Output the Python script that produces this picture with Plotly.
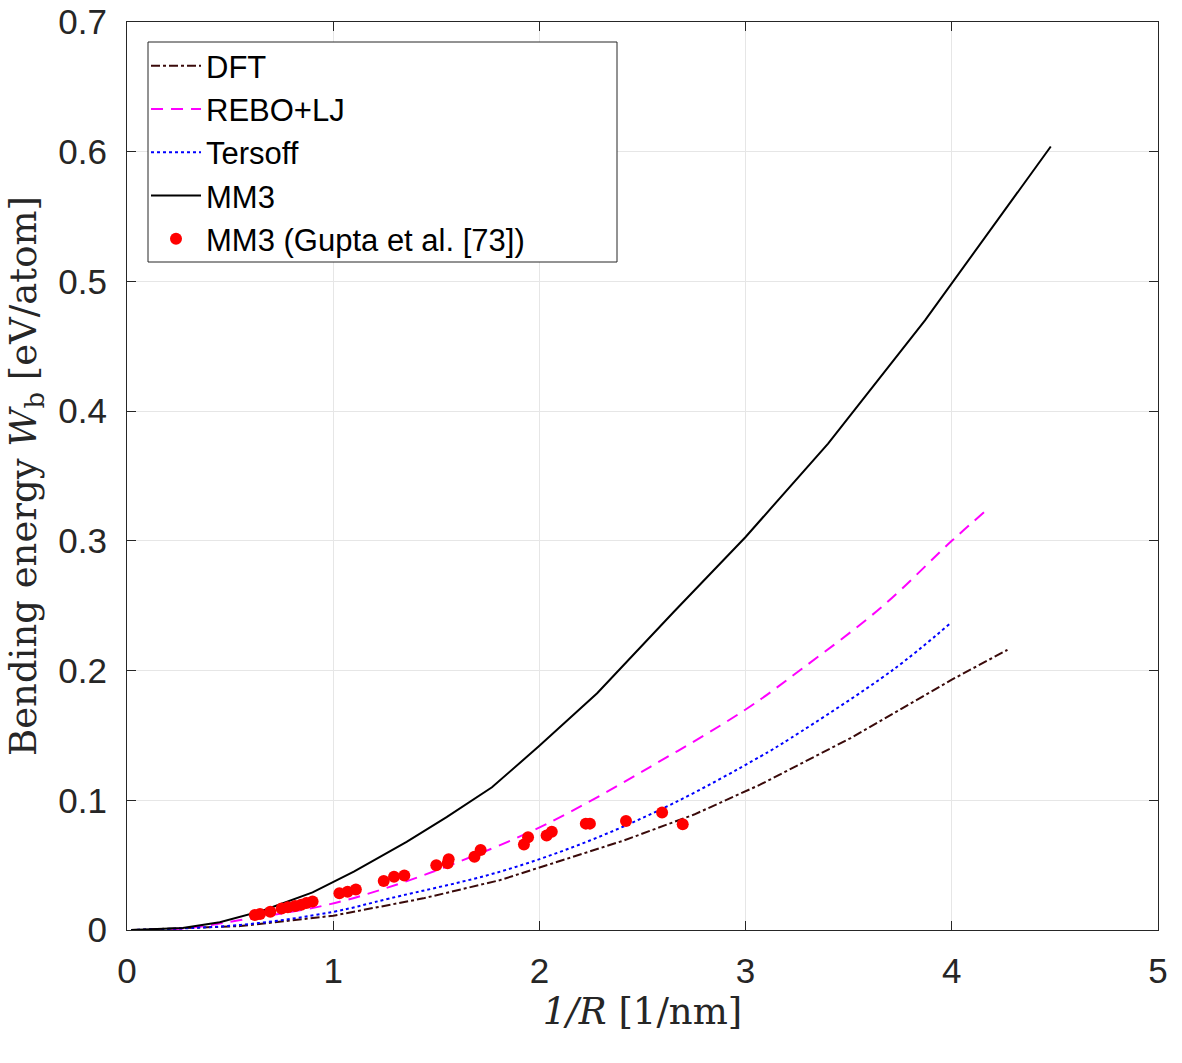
import plotly.graph_objects as go

# DFT
dft_x = [0.02, 0.55, 1.0, 1.437, 1.81, 2.067, 2.41, 2.75, 3.07, 3.51, 4.0, 4.27]
dft_y = [0.0, 0.003, 0.011, 0.0244, 0.0385, 0.0514, 0.069, 0.089, 0.112, 0.148, 0.193, 0.216]
# REBO+LJ
rebo_x = [0.02, 0.3, 0.55, 0.96, 1.25, 1.6, 2.035, 2.54, 3.0, 3.27, 3.66, 4.0, 4.156]
rebo_y = [0.0, 0.0015, 0.0077, 0.019, 0.032, 0.052, 0.0817, 0.126, 0.170, 0.201, 0.249, 0.300, 0.322]
# Tersoff
ters_x = [0.02, 0.55, 1.0, 1.275, 1.81, 2.245, 2.65, 3.07, 3.22, 3.71, 3.99]
ters_y = [0.0, 0.0039, 0.014, 0.0244, 0.045, 0.069, 0.0977, 0.1336, 0.148, 0.200, 0.236]
# MM3
mm3_x = [0.02, 0.27, 0.45, 0.65, 0.9, 1.1, 1.356, 1.55, 1.77, 2.0, 2.28, 2.65, 3.0, 3.4, 3.87, 4.48]
mm3_y = [0.0, 0.0015, 0.006, 0.0145, 0.029, 0.045, 0.068, 0.087, 0.110, 0.142, 0.1825, 0.245, 0.303, 0.375, 0.470, 0.604]
# MM3 (Gupta et al.)
gup_x = [0.62, 0.645, 0.695, 0.75, 0.78, 0.815, 0.845, 0.87, 0.9, 1.03, 1.07, 1.11, 1.245, 1.295, 1.345,
         1.50, 1.555, 1.56, 1.685, 1.715, 1.925, 1.945, 2.035, 2.06, 2.225, 2.245, 2.42, 2.595, 2.695]
gup_y = [0.0115, 0.0123, 0.014, 0.0165, 0.0175, 0.0185, 0.0195, 0.0208, 0.022, 0.0283, 0.0295, 0.0312, 0.0378,
         0.041, 0.042, 0.050, 0.0515, 0.0545, 0.0565, 0.0617, 0.066, 0.0715, 0.0728, 0.0758, 0.082, 0.082,
         0.084, 0.0905, 0.0815]

x_ticks = [0, 1, 2, 3, 4, 5]
y_ticks = [0, 0.1, 0.2, 0.3, 0.4, 0.5, 0.6, 0.7]
y_tick_text = ["0", "0.1", "0.2", "0.3", "0.4", "0.5", "0.6", "0.7"]

fig = go.Figure()
fig.add_trace(go.Scatter(x=dft_x, y=dft_y, mode="lines", name="DFT",
                         line=dict(color="#3a0a0a", width=2, dash="dashdot")))
fig.add_trace(go.Scatter(x=rebo_x, y=rebo_y, mode="lines", name="REBO+LJ", line_shape="spline",
                         line=dict(color="#ff00ff", width=2, dash="12px,8px")))
fig.add_trace(go.Scatter(x=ters_x, y=ters_y, mode="lines", name="Tersoff", line_shape="spline",
                         line=dict(color="#0000ff", width=2, dash="dot")))
fig.add_trace(go.Scatter(x=mm3_x, y=mm3_y, mode="lines", name="MM3",
                         line=dict(color="#000000", width=2)))
fig.add_trace(go.Scatter(x=gup_x, y=gup_y, mode="markers", name="MM3 (Gupta et al. [73])",
                         marker=dict(color="#ff0000", size=12, line=dict(width=0))))

axis_common = dict(showline=True, linecolor="#262626", linewidth=1, mirror="ticks",
                   ticks="inside", ticklen=9, tickcolor="#262626",
                   showgrid=True, gridcolor="#e6e6e6", gridwidth=1, zeroline=False,
                   ticklabeloverflow="allow", automargin=False,
                   tickfont=dict(family="Liberation Sans, Arial", size=35, color="#262626"))

title_font = dict(family="DejaVu Serif, Liberation Serif, serif", size=37, color="#262626")

# Legend frame (paper coords derived from the plot area)
L, R, T, B = 127, 1158, 22, 930
fig.add_shape(type="rect", xref="paper", yref="paper",
              x0=(148 - L) / (R - L), x1=(617 - L) / (R - L),
              y0=(B - 262) / (B - T), y1=(B - 42) / (B - T),
              line=dict(color="#262626", width=1), fillcolor="white", layer="above")

fig.update_layout(
    width=1182, height=1063,
    margin=dict(l=127, r=24, t=22, b=133, autoexpand=False),
    paper_bgcolor="white", plot_bgcolor="white",
    xaxis=dict(range=[0, 5], tickvals=x_ticks, ticktext=[str(t) for t in x_ticks],
               ticklabelstandoff=10,
               title=dict(text="<i>1/R</i> [1/nm]", standoff=6, font=title_font),
               **axis_common),
    yaxis=dict(range=[0, 0.7], tickvals=y_ticks, ticktext=y_tick_text,
               ticklabelstandoff=12,
               title=dict(text="Bending energy <i>W</i><sub>b</sub> [eV/atom]", standoff=10, font=title_font),
               **axis_common),
    legend=dict(x=(146 - L) / (R - L), y=(B - 39) / (B - T), xanchor="left", yanchor="top",
                bgcolor="rgba(0,0,0,0)", borderwidth=0,
                font=dict(family="Liberation Sans, Arial", size=31, color="#000000"),
                tracegroupgap=0, itemwidth=50),
    showlegend=True,
)

fig.write_html("out.html")
